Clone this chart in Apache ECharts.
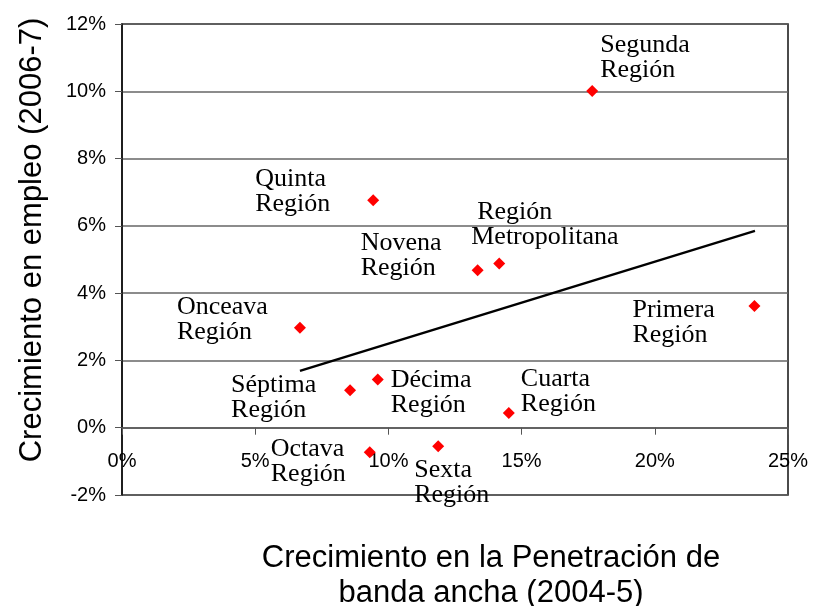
<!DOCTYPE html>
<html>
<head>
<meta charset="utf-8">
<script src="https://cdn.jsdelivr.net/npm/echarts@6/dist/echarts.min.js"></script>
<style>html,body{margin:0;padding:0;background:#fff;}#c{width:822px;height:606px;}</style>
</head>
<body>
<div id="c"></div>
<script>
// Data (percent units)
const regions = ['Segunda\nRegión', 'Quinta\nRegión', 'Novena\nRegión', 'Región\nMetropolitana', 'Primera\nRegión', 'Onceava\nRegión', 'Séptima\nRegión', 'Décima\nRegión', 'Cuarta\nRegión', 'Octava\nRegión', 'Sexta\nRegión'];
const broadbandGrowth = [17.65, 9.43, 13.35, 14.16, 23.74, 6.68, 8.56, 9.60, 14.52, 9.30, 11.87];
const employmentGrowth = [10.01, 6.76, 4.68, 4.88, 3.62, 2.97, 1.11, 1.43, 0.44, -0.73, -0.55];
const trendX = [6.68, 23.76];
const trendY = [1.69, 5.85];
const xAxisTitle = 'Crecimiento en la Penetración de\nbanda ancha (2004-5)';
const yAxisTitle = 'Crecimiento en empleo (2006-7)';

// Layout: label offsets (px) from each marker centre to the label's top-left
const labelOffsets = [[8, -58], [-118, -34], [-117, -40], [-28, -64], [-122, -8], [-123, -33], [-119, -18], [13, -12], [12, -46], [-99, -16], [-24, 11]];

const serif = "'Liberation Serif','Times New Roman',serif";
const sans = "'Liberation Sans',Arial,Helvetica,sans-serif";

const scatterData = regions.map((name, i) => {
  const isMetro = name.indexOf('Metropolitana') >= 0;
  const parts = name.split('\n');
  return {
    name: name,
    value: [broadbandGrowth[i], employmentGrowth[i]],
    label: {
      offset: labelOffsets[i],
      formatter: isMetro ? '{a|' + parts[0] + '}\n{b|' + parts[1] + '}' : name,
      rich: isMetro ? {
        a: {fontFamily: serif, fontSize: 26, lineHeight: 25, color: '#000', padding: [0, 0, 0, 6]},
        b: {fontFamily: serif, fontSize: 26, lineHeight: 25, color: '#000'}
      } : undefined
    }
  };
});

const chart = echarts.init(document.getElementById('c'), null, {renderer: 'canvas'});
chart.setOption({
  animation: false,
  backgroundColor: '#fff',
  grid: {left: 122, top: 24, right: 34, bottom: 111, show: true, borderColor: '#111', borderWidth: 1.5, backgroundColor: 'transparent'},
  xAxis: {
    type: 'value', min: 0, max: 25, interval: 5,
    offset: -67.3,
    axisLine: {show: true, onZero: false, lineStyle: {color: '#555', width: 1.5}},
    axisTick: {show: true, inside: false, length: 7, lineStyle: {color: '#555'}},
    axisLabel: {formatter: '{value}%', fontFamily: sans, fontSize: 20, color: '#000', margin: 24},
    splitLine: {show: false}
  },
  yAxis: {
    type: 'value', min: -2, max: 12, interval: 2,
    axisLine: {show: true, onZero: false, lineStyle: {color: '#111', width: 1.5}},
    axisTick: {show: true, length: 7, lineStyle: {color: '#555'}},
    axisLabel: {formatter: '{value}%', fontFamily: sans, fontSize: 20, color: '#000', margin: 16},
    splitLine: {show: true, lineStyle: {color: '#666', width: 1.5}}
  },
  graphic: [
    {type: 'text', x: 491, y: 541, style: {text: xAxisTitle, textAlign: 'center', textVerticalAlign: 'top', font: '31px ' + sans, lineHeight: 35, fill: '#000'}},
    {type: 'text', x: 32, y: 240, rotation: Math.PI / 2, style: {text: yAxisTitle, textAlign: 'center', textVerticalAlign: 'middle', font: '31px ' + sans, fill: '#000'}}
  ],
  series: [
    {
      type: 'line',
      data: trendX.map((x, i) => [x, trendY[i]]),
      showSymbol: false,
      symbol: 'none',
      lineStyle: {color: '#000', width: 2.5},
      z: 3
    },
    {
      type: 'scatter',
      data: scatterData,
      symbol: 'diamond',
      symbolSize: 12,
      itemStyle: {color: '#ff0000', opacity: 1},
      label: {
        show: true,
        position: 'inside',
        align: 'left',
        verticalAlign: 'top',
        fontFamily: serif,
        fontSize: 26,
        lineHeight: 25,
        color: '#000',
        textBorderWidth: 0
      },
      z: 4
    }
  ]
});
</script>
</body>
</html>
